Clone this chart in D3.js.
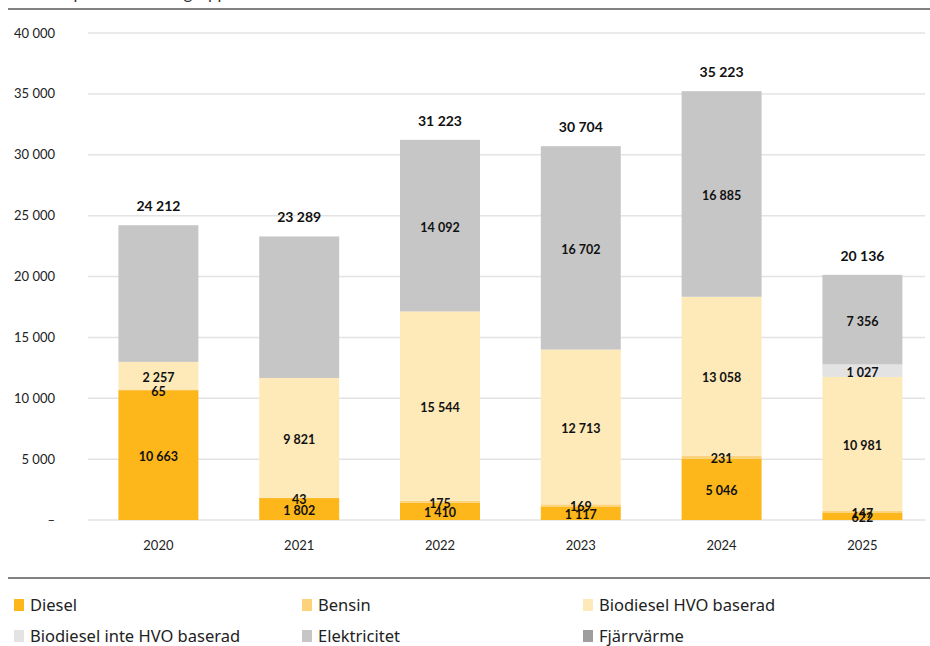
<!DOCTYPE html>
<html><head><meta charset="utf-8">
<script src="https://cdn.jsdelivr.net/npm/d3@7"></script>
<style>
body{margin:0;background:#fff;}
svg{display:block;font-family:Lato,"Noto Sans",sans-serif;}
</style></head>
<body><svg id="c" width="930" height="646"></svg>
<script>
const title = "Kostnad per drivmedelsgrupp";
const years = ["2020","2021","2022","2023","2024","2025"];
const seriesNames = ["Diesel","Bensin","Biodiesel HVO baserad","Biodiesel inte HVO baserad","Elektricitet","Fjärrvärme"];
const colors = ["#FDB71A","#FCD27A","#FEE9B8","#E3E3E3","#C6C6C6","#9E9E9E"];
const diesel = [10663, 1802, 1410, 1117, 5046, 622];
const bensin = [65, 43, 175, 169, 231, 147];
const hvo = [2257, 9821, 15544, 12713, 13058, 10981];
const inteHvo = [0, 0, 0, 0, 0, 1027];
const el = [11227, 11623, 14092, 16702, 16885, 7356];
const fjarr = [0, 0, 2, 3, 3, 3];
const totals = [24212, 23289, 31223, 30704, 35223, 20136];
// which segment labels are shown (Excel hides some)
const showEl = [false, false, true, true, true, true];
const yTicks = [0,5000,10000,15000,20000,25000,30000,35000,40000];

const svg = d3.select("#c");
const loc = d3.formatLocale({decimal:",", thousands:" ", grouping:[3], currency:["",""]});
const fmt = loc.format(",d");

const x = d3.scaleBand().domain(years).range([88, 932.8]).paddingInner(0.432).paddingOuter(0.216);
const y = d3.scaleLinear().domain([0,40000]).range([520, 33]);

const series = [diesel, bensin, hvo, inteHvo, el, fjarr];
const rows = years.map((yr,i)=>{const o={year:yr}; seriesNames.forEach((s,k)=>o[s]=series[k][i]); return o;});
const stacked = d3.stack().keys(seriesNames)(rows);

// title (cut off at top)
svg.append("text").attr("x",8).attr("y",-1).attr("font-size",17).attr("fill","#333").text(title);
// top & bottom rules
svg.append("line").attr("x1",8).attr("x2",930).attr("y1",9).attr("y2",9).attr("stroke","#595959").attr("stroke-width",1.5);
svg.append("line").attr("x1",8).attr("x2",930).attr("y1",578).attr("y2",578).attr("stroke","#595959").attr("stroke-width",1.5);

// gridlines
svg.append("g").selectAll("line").data(yTicks).join("line")
  .attr("x1",88).attr("x2",925).attr("y1",d=>y(d)).attr("y2",d=>y(d))
  .attr("stroke","#e3e3e3").attr("stroke-width",1.5);

// y axis labels
svg.append("g").selectAll("text").data(yTicks).join("text")
  .attr("x",55).attr("y",d=>y(d)+4.5).attr("text-anchor","end")
  .attr("font-size",13).attr("fill","#222")
  .text(d=>d===0?"–":fmt(d));

// bars
const g = svg.append("g");
stacked.forEach((s,k)=>{
  g.append("g").attr("fill",colors[k]).selectAll("rect").data(s).join("rect")
    .attr("x",d=>x(d.data.year)).attr("width",x.bandwidth())
    .attr("y",d=>y(d[1])).attr("height",d=>y(d[0])-y(d[1]));
});

// segment labels
stacked.forEach((s,k)=>{
  if (k===5) return;
  g.append("g").selectAll("text").data(s.filter((d,i)=>(d[1]-d[0])>0 && !(k===4 && !showEl[i]))).join("text")
    .attr("x",d=>x(d.data.year)+x.bandwidth()/2)
    .attr("y",d=>y((d[0]+d[1])/2)+6)
    .attr("text-anchor","middle").attr("font-size",12.5).attr("font-weight","bold").attr("fill","#111")
    .text(d=>fmt(d[1]-d[0]));
});

// totals
svg.append("g").selectAll("text").data(years).join("text")
  .attr("x",d=>x(d)+x.bandwidth()/2).attr("y",(d,i)=>y(totals[i])-14)
  .attr("text-anchor","middle").attr("font-size",14).attr("font-weight","bold").attr("fill","#111")
  .text((d,i)=>fmt(totals[i]));

// x axis labels
svg.append("g").selectAll("text").data(years).join("text")
  .attr("x",d=>x(d)+x.bandwidth()/2).attr("y",550).attr("text-anchor","middle")
  .attr("font-size",13).attr("fill","#222").text(d=>d);

// legend
const legX = [14, 302, 583], legY = [605, 636];
const lg = svg.append("g").selectAll("g").data(seriesNames).join("g")
  .attr("transform",(d,i)=>`translate(${legX[i%3]},${legY[Math.floor(i/3)]})`);
lg.append("rect").attr("x",0).attr("y",-6).attr("width",10).attr("height",12).attr("fill",(d,i)=>colors[i]);
lg.append("text").attr("x",16).attr("y",6).attr("font-size",16.5).attr("font-family","'Noto Sans',sans-serif").attr("fill","#222").text(d=>d);
</script></body></html>
